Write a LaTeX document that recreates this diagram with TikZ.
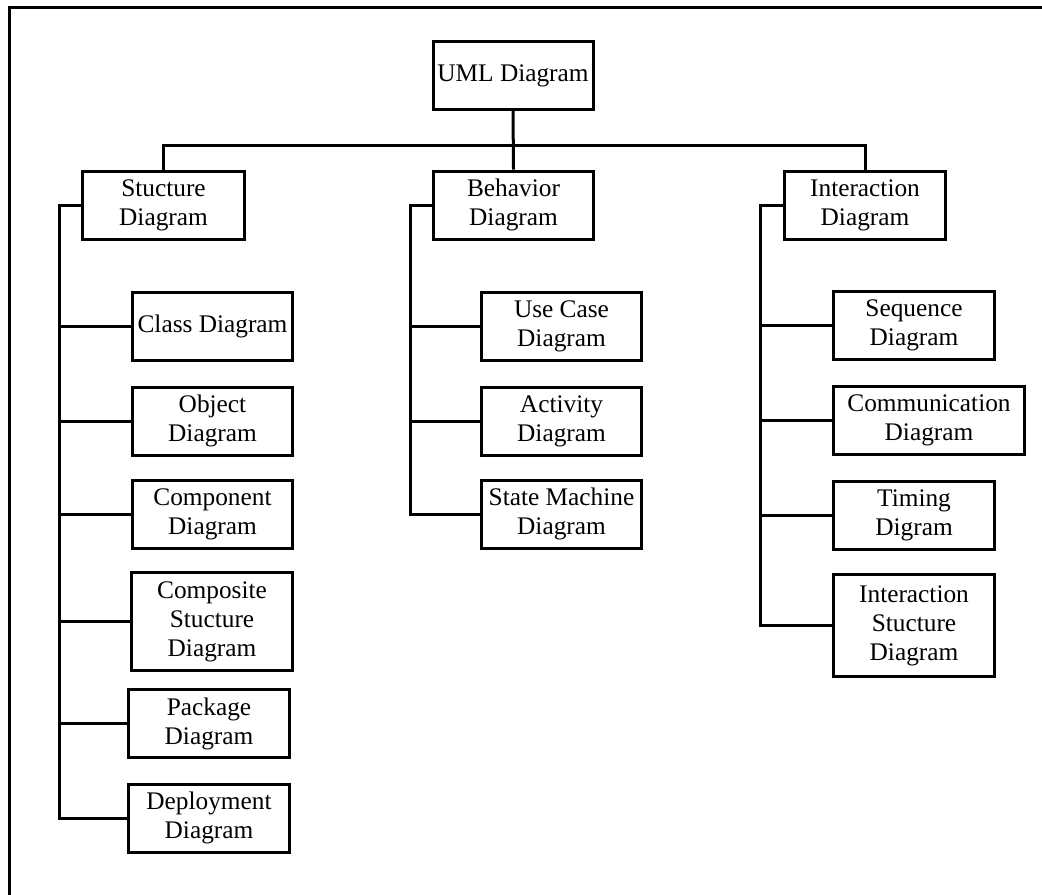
\documentclass[tikz,border=0pt]{standalone}
\usepackage{fontspec}
\setmainfont{Liberation Serif}
\begin{document}
\begin{tikzpicture}[x=0.75pt,y=-0.75pt,
  box/.style={draw, line width=2.25pt, align=center, inner sep=0pt,
    minimum width=120pt, minimum height=51pt,
    font=\fontsize{19}{21.75}\selectfont},
  tall/.style={minimum height=74pt},
  wire/.style={line width=2.25pt}]
\useasboundingbox (0,0) rectangle (1042,894);
% frame (cropped)
\draw[wire] (9,900) -- (9,7) -- (1050,7);
% nodes
\node[box] (uml) at (513,75.5) {UML Diagram};
\node[box, minimum width=121.5pt] (struct) at (163.5,205.5) {Stucture\\Diagram};
\node[box] (behav) at (513.5,205) {Behavior\\Diagram};
\node[box, minimum width=121pt] (inter) at (865,205.5) {Interaction\\Diagram};

\node[box] (class) at (212.5,326) {Class Diagram};
\node[box] (object) at (212.5,421) {Object\\Diagram};
\node[box] (component) at (212.5,514) {Component\\Diagram};
\node[box, tall, minimum width=121pt] (composite) at (212,621.5) {Composite\\Stucture\\Diagram};
\node[box, minimum width=121pt] (package) at (209,723.5) {Package\\Diagram};
\node[box, minimum width=121pt] (deploy) at (209,818) {Deployment\\Diagram};

\node[box] (usecase) at (561.5,326) {Use Case\\Diagram};
\node[box] (activity) at (561.5,421) {Activity\\Diagram};
\node[box] (state) at (561.5,514) {State Machine\\Diagram};

\node[box, minimum width=121pt] (sequence) at (914,325.5) {Sequence\\Diagram};
\node[box, minimum width=143.25pt] (comm) at (929,420) {Communication\\Diagram};
\node[box, minimum width=121pt] (timing) at (914,515) {Timing\\Digram};
\node[box, tall, minimum width=121pt, minimum height=76.5pt] (istruct) at (914,625.5) {Interaction\\Stucture\\Diagram};

% top connectors
\coordinate (bus) at (513,145);
\draw[wire] (uml.south) -- (behav.north);
\draw[wire] (struct.north) -- (struct.north |- bus) -- (inter.north |- bus) -- (inter.north);

% structure trunk
\coordinate (st) at (59,205.5);
\draw[wire] (struct.west) -- (st) |- (deploy.west);
\foreach \n in {class,object,component,composite,package}
  \draw[wire] (st |- \n.west) -- (\n.west);

% behavior trunk
\coordinate (bt) at (410,205);
\draw[wire] (behav.west) -- (bt) |- (state.west);
\foreach \n in {usecase,activity}
  \draw[wire] (bt |- \n.west) -- (\n.west);

% interaction trunk
\coordinate (it) at (760,205.5);
\draw[wire] (inter.west) -- (it) |- (istruct.west);
\foreach \n in {sequence,comm,timing}
  \draw[wire] (it |- \n.west) -- (\n.west);
\end{tikzpicture}
\end{document}
